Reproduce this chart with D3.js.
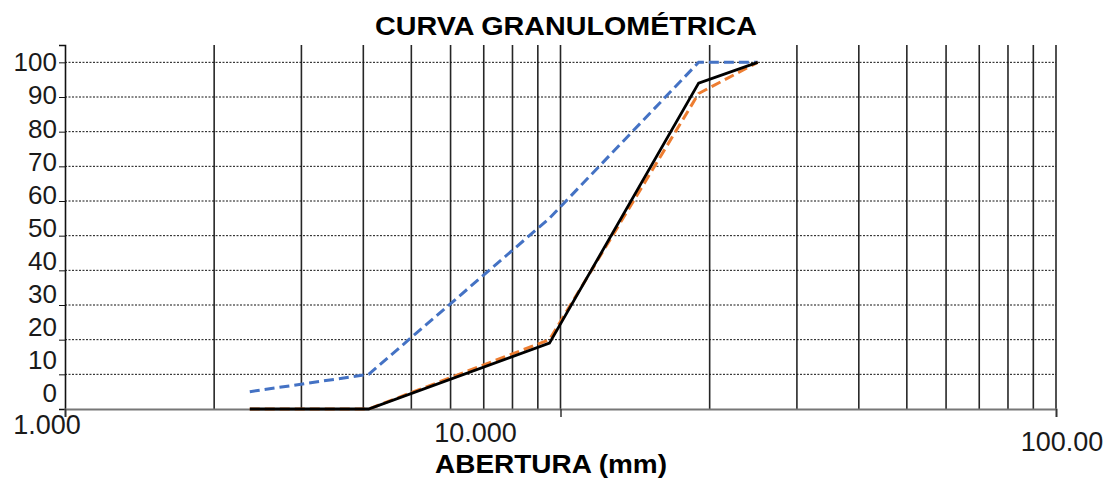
<!DOCTYPE html>
<html>
<head>
<meta charset="utf-8">
<script src="https://cdn.jsdelivr.net/npm/d3@7"></script>
<style>
  body { margin: 0; background: #fff; }
  text { font-family: "Liberation Sans", Arial, sans-serif; }
</style>
</head>
<body>
<svg id="chart" width="1109" height="479"></svg>
<script>
// sieve openings (mm) and % passing
const sizes = [2.36, 4.1, 9.5, 19, 25];
const upperLimit = [5, 10, 55, 100, 100];
const lowerLimit = [0, 0, 20, 91, 100];
const sample = [0, 0, 19, 94, 100];

const yTicks = [0, 10, 20, 30, 40, 50, 60, 70, 80, 90, 100];
const xMajor = [1, 10, 100];
const xTickLabels = ["1.000", "10.000", "100.00"];
const xGrid = [2, 3, 4, 5, 6, 7, 8, 9, 10, 20, 30, 40, 50, 60, 70, 80, 90, 100];

// label nudges, the original has them drifting a bit
const xLabelNudge = [[-18, 434], [-85, 442], [6, 451]];

const margin = { left: 65, right: 53, top: 45, bottom: 70 };
const width = 1109, height = 479;

const svg = d3.select("#chart");

const x = d3.scaleLog().domain([1, 100]).range([margin.left, width - margin.right]);
const y = d3.scaleLinear().domain([0, 105]).range([height - margin.bottom, margin.top]);
// the tick labels sit on a slightly tighter spacing than the gridlines
const yLabel = d3.scaleLinear().domain([0, 100]).range([393, 62]);

// vertical grid
svg.append("g")
  .selectAll("line")
  .data(xGrid)
  .join("line")
  .attr("x1", d => x(d)).attr("x2", d => x(d))
  .attr("y1", y(105)).attr("y2", y(0))
  .attr("stroke", "#262626")
  .attr("stroke-width", 1.6);

// horizontal dotted grid
svg.append("g")
  .selectAll("line")
  .data(yTicks.filter(d => d > 0))
  .join("line")
  .attr("x1", x(1)).attr("x2", x(100))
  .attr("y1", d => y(d)).attr("y2", d => y(d))
  .attr("stroke", "#111")
  .attr("stroke-width", 1)
  .attr("stroke-dasharray", "2,1.5");

// y axis
svg.append("g")
  .attr("transform", "translate(" + x(1) + ",0)")
  .call(d3.axisLeft(y).tickValues(yTicks).tickSize(6).tickFormat(""))
  .call(g => g.select(".domain").attr("stroke", "#111").attr("stroke-width", 1.6))
  .call(g => g.selectAll(".tick line").attr("stroke", "#111"));

svg.append("g")
  .selectAll("text")
  .data(yTicks)
  .join("text")
  .attr("x", 57)
  .attr("y", d => yLabel(d))
  .attr("dy", "0.36em")
  .attr("text-anchor", "end")
  .attr("font-size", 26)
  .attr("fill", "#1a1a1a")
  .text(d => d);

// x axis
svg.append("g")
  .attr("transform", "translate(0," + y(0) + ")")
  .call(d3.axisBottom(x).tickValues(xMajor).tickSize(8).tickFormat(""))
  .call(g => g.select(".domain").attr("stroke", "#777").attr("stroke-width", 2))
  .call(g => g.selectAll(".tick line").attr("stroke", "#333").attr("stroke-width", 1.5));

svg.append("g")
  .selectAll("text")
  .data(xMajor)
  .join("text")
  .attr("x", (d, i) => x(d) + xLabelNudge[i][0])
  .attr("y", (d, i) => xLabelNudge[i][1])
  .attr("text-anchor", "middle")
  .attr("font-size", 27)
  .attr("fill", "#1a1a1a")
  .text((d, i) => xTickLabels[i]);

// curves
const line = d3.line()
  .x(d => x(d[0]))
  .y(d => y(d[1]));

const series = [
  { values: upperLimit, color: "#4472C4", dash: "10,5", w: 3 },
  { values: lowerLimit, color: "#ED7D31", dash: "10,5", w: 3 },
  { values: sample, color: "#000", dash: null, w: 2.8 }
];

series.forEach(s => {
  svg.append("path")
    .datum(sizes.map((d, i) => [d, s.values[i]]))
    .attr("fill", "none")
    .attr("stroke", s.color)
    .attr("stroke-width", s.w)
    .attr("stroke-dasharray", s.dash)
    .attr("d", line);
});

// titles
svg.append("text")
  .attr("x", 566)
  .attr("y", 35)
  .attr("text-anchor", "middle")
  .attr("font-size", 26)
  .attr("font-weight", "bold")
  .attr("textLength", 382)
  .attr("lengthAdjust", "spacingAndGlyphs")
  .text("CURVA GRANULOMÉTRICA");

svg.append("text")
  .attr("x", 551)
  .attr("y", 473)
  .attr("text-anchor", "middle")
  .attr("font-size", 26)
  .attr("font-weight", "bold")
  .attr("textLength", 232)
  .attr("lengthAdjust", "spacingAndGlyphs")
  .text("ABERTURA (mm)");
</script>
</body>
</html>
